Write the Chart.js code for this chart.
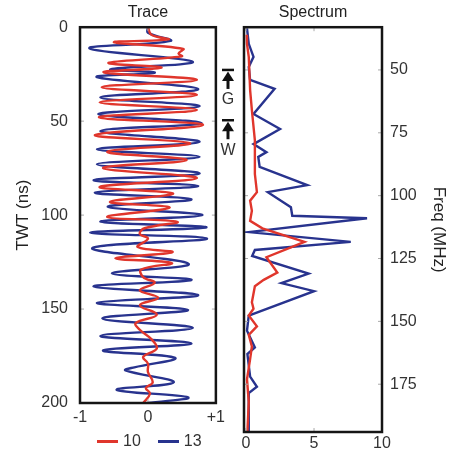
<!DOCTYPE html>
<html>
<head>
<meta charset="utf-8">
<script src="https://cdn.jsdelivr.net/npm/chart.js"></script>
<style>
  body { margin: 0; background: #fff; }
  #wrap { position: relative; width: 449px; height: 454px; overflow: hidden; font-family: "Liberation Sans", Arial, sans-serif; }
  #trace { position: absolute; left: 0; top: 0; }
  #spec { position: absolute; left: 215px; top: 0; }
  #legend { position: absolute; left: 97px; top: 432px; font-size: 16px; color: #333; display: flex; align-items: center; }
  #legend .sw { display: inline-block; width: 21px; height: 3px; margin-right: 5px; }
  #legend .it { display: flex; align-items: center; margin-right: 17px; }
</style>
</head>
<body>
<div id="wrap">
  <canvas id="trace" width="230" height="454"></canvas>
  <canvas id="spec" width="234" height="454"></canvas>
  <div id="legend"></div>
</div>
<script>
// series names / colours
const seriesNames = ["10", "13"];
const seriesColors = ["#e0362c", "#28338e"];

// trace: time (ns) and normalised amplitude
const trace10Time = [0, 4, 6.5, 8, 11.5, 14, 15.5, 19, 21.5, 24, 28, 32, 36, 40, 44, 48, 52, 57.4, 61.8, 66.3, 70.7, 75, 80.3, 85, 88.5, 93, 96, 101, 103.6, 107, 110, 112.5, 117, 119.7, 123, 125.5, 129, 133, 136, 140, 144, 148, 153, 157.5, 161, 166, 171, 175.5, 179, 183.5, 189, 192, 195, 200];
const trace10Amp = [0, 0.05, 0.3, -0.5, 0.52, 0.45, 0.5, -0.58, 0.2, -0.65, 0.72, -0.68, 0.72, -0.71, 0.72, -0.72, 0.81, -0.78, 0.62, -0.6, 0.57, -0.66, 0.72, -0.71, 0.37, -0.56, 0.32, -0.6, 0.43, -0.05, -0.12, 0, -0.15, 0.36, -0.48, 0.35, -0.1, -0.07, 0.1, -0.12, 0.15, -0.12, 0.13, -0.18, -0.12, 0.05, 0.13, -0.07, 0, 0, 0.07, -0.03, 0.03, -0.07];

const trace13Time = [0, 3, 7.3, 11.3, 18.4, 22.4, 24.2, 26.6, 33, 37.4, 42, 46.3, 51, 55.3, 61, 65, 69, 73, 77.8, 81.4, 84.5, 88, 91.6, 95.6, 100, 103.5, 106.5, 109.4, 112.5, 117.6, 126, 131, 134.5, 138, 142.6, 146.7, 150.5, 155, 160, 164.3, 168.3, 172, 176, 181, 182.6, 189, 193, 197, 200];
const trace13Amp = [0, 0, 0.33, -0.86, 0.66, -0.55, 0.1, -0.75, 0.74, -0.7, 0.76, -0.73, 0.79, -0.7, 0.76, -0.75, 0.76, -0.75, 0.76, -0.8, 0.74, -0.78, 0.64, -0.59, 0.8, -0.7, 0.86, -0.85, 0.87, -0.82, 0.6, -0.53, 0.64, -0.8, 0.74, -0.75, 0.59, -0.67, 0.66, -0.7, 0.64, -0.66, 0.4, -0.2, -0.33, 0.38, -0.46, 0.59, 0];

// spectrum: frequency (MHz) and amplitude
const spec10Freq = [36, 39.6, 44.8, 58, 66, 78, 91.4, 98.6, 102, 106, 110, 113, 118.4, 120.6, 124.5, 130.6, 133.5, 136, 142.4, 145, 147.7, 152, 155.4, 160, 165, 173, 182, 194];
const spec10Amp = [0.05, 0.07, 0.2, 0.3, 0.43, 0.65, 0.65, 0.8, 0.3, 0.43, 0.3, 1.2, 4.3, 3.3, 1.5, 2.3, 1.3, 0.65, 0.43, 0.55, 0.2, 0.8, 0.2, 0.43, 0.3, 0.07, 0.2, 0.1];

const spec13Freq = [33.5, 39.6, 44.8, 48.8, 54, 57.5, 67.5, 73.5, 79.5, 82.7, 84.6, 88.6, 95.8, 98.6, 104.6, 108, 109, 114.5, 118.4, 121.6, 124, 131, 134.8, 138, 147.7, 153.7, 160.4, 163, 172, 176, 178.5, 194];
const spec13Amp = [0.07, 0.2, 0.55, 0.2, 0.3, 2.1, 0.55, 2.5, 0.55, 1.5, 0.9, 1.0, 4.5, 1.6, 3.3, 3.4, 8.9, 0.2, 7.7, 0.65, 0.45, 4.6, 2.6, 5.0, 0.2, 0.07, 0.65, 0.1, 0.3, 0.8, 0.2, 0.2];

// tick labels
const traceXTicks = [-1, 0, 1];
const traceYTicks = [0, 50, 100, 150, 200];
const specXTicks = [0, 5, 10];
const specYTicks = [50, 75, 100, 125, 150, 175];

// G / W markers on the frequency axis
const markFreq = [50, 70];
const markLabel = ["G", "W"];

const FONT = "'Liberation Sans', Arial, sans-serif";
Chart.defaults.font.family = FONT;
Chart.defaults.color = "#333";

const pairs = (xs, ys) => xs.map((v, i) => ({ x: ys[i], y: v }));
const setTicks = arr => s => { s.ticks = arr.map(v => ({ value: v })); };

// box around the plot with little inward ticks
const framePlugin = {
  id: "frame",
  afterDatasetsDraw(chart) {
    const { ctx, chartArea: a, scales } = chart;
    const tick = (x1, y1, x2, y2) => { ctx.beginPath(); ctx.moveTo(x1, y1); ctx.lineTo(x2, y2); ctx.stroke(); };
    ctx.save();
    ctx.strokeStyle = "#aaa";
    ctx.lineWidth = 1;
    scales.x.ticks.forEach(t => {
      const p = scales.x.getPixelForValue(t.value);
      tick(p, a.top, p, a.top + 4);
      tick(p, a.bottom, p, a.bottom - 4);
    });
    scales.y.ticks.forEach(t => {
      const p = scales.y.getPixelForValue(t.value);
      tick(a.left, p, a.left + 4, p);
      tick(a.right, p, a.right - 4, p);
    });
    ctx.strokeStyle = "#151515";
    ctx.lineWidth = 2.5;
    ctx.strokeRect(a.left, a.top, a.right - a.left, a.bottom - a.top);
    ctx.restore();
  }
};

// the G / W arrows left of the spectrum box
const markPlugin = {
  id: "marks",
  afterDraw(chart) {
    const { ctx, chartArea: a, scales } = chart;
    const x = a.left - 16;
    ctx.save();
    ctx.fillStyle = "#111";
    ctx.strokeStyle = "#111";
    markFreq.forEach((f, i) => {
      const y = scales.y.getPixelForValue(f);
      ctx.lineWidth = 2.5;
      ctx.beginPath(); ctx.moveTo(x - 6, y); ctx.lineTo(x + 6, y); ctx.stroke();
      ctx.beginPath(); ctx.moveTo(x, y + 1.5); ctx.lineTo(x - 6, y + 11); ctx.lineTo(x + 6, y + 11); ctx.closePath(); ctx.fill();
      ctx.lineWidth = 3;
      ctx.beginPath(); ctx.moveTo(x, y + 9); ctx.lineTo(x, y + 19); ctx.stroke();
      ctx.font = "16px " + FONT;
      ctx.textAlign = "center";
      ctx.textBaseline = "middle";
      ctx.fillStyle = "#333";
      ctx.fillText(markLabel[i], x, y + 30);
      ctx.fillStyle = "#111";
    });
    ctx.restore();
  }
};

const titleOpts = text => ({
  display: true, text, fullSize: false, color: "#222",
  font: { size: 16, weight: "normal" }, padding: { top: 3, bottom: 5 }
});

new Chart(document.getElementById("trace"), {
  type: "scatter",
  data: {
    datasets: [
      { label: seriesNames[0], data: pairs(trace10Time, trace10Amp), borderColor: seriesColors[0], borderWidth: 2.4, showLine: true, pointRadius: 0, tension: 0.4 },
      { label: seriesNames[1], data: pairs(trace13Time, trace13Amp), borderColor: seriesColors[1], borderWidth: 2.4, showLine: true, pointRadius: 0, tension: 0.4 }
    ]
  },
  options: {
    responsive: false, animation: false,
    layout: { padding: { left: 0, right: 14, top: 0, bottom: 0 } },
    plugins: { legend: { display: false }, tooltip: { enabled: false }, title: titleOpts("Trace") },
    scales: {
      x: {
        type: "linear", min: -1, max: 1,
        afterBuildTicks: setTicks(traceXTicks),
        afterFit: s => { s.height = 51; },
        grid: { display: false, drawTicks: false }, border: { display: false },
        ticks: { padding: 5, font: { size: 16 }, callback: v => (v > 0 ? "+" + v : String(v)) }
      },
      y: {
        type: "linear", reverse: true, min: 0, max: 200,
        afterBuildTicks: setTicks(traceYTicks),
        afterFit: s => { s.width = 80; },
        grid: { display: false, drawTicks: false }, border: { display: false },
        ticks: { padding: 12, font: { size: 16 } },
        title: { display: true, text: "TWT (ns)", color: "#222", font: { size: 17 }, padding: { top: 13, bottom: 0 } }
      }
    }
  },
  plugins: [framePlugin]
});

new Chart(document.getElementById("spec"), {
  type: "scatter",
  data: {
    datasets: [
      { label: seriesNames[0], data: pairs(spec10Freq, spec10Amp), borderColor: seriesColors[0], borderWidth: 2.4, showLine: true, pointRadius: 0, tension: 0 },
      { label: seriesNames[1], data: pairs(spec13Freq, spec13Amp), borderColor: seriesColors[1], borderWidth: 2.4, showLine: true, pointRadius: 0, tension: 0 }
    ]
  },
  options: {
    responsive: false, animation: false,
    layout: { padding: { left: 29, right: 0, top: 0, bottom: 0 } },
    plugins: { legend: { display: false }, tooltip: { enabled: false }, title: titleOpts("Spectrum") },
    scales: {
      x: {
        type: "linear", min: -0.15, max: 10,
        afterBuildTicks: setTicks(specXTicks),
        afterFit: s => { s.height = 22; },
        grid: { display: false, drawTicks: false }, border: { display: false },
        ticks: { padding: 2, font: { size: 16 } }
      },
      y: {
        type: "linear", position: "right", reverse: true, min: 33, max: 194,
        afterBuildTicks: setTicks(specYTicks),
        afterFit: s => { s.width = 67; },
        grid: { display: false, drawTicks: false }, border: { display: false },
        ticks: { padding: 8, font: { size: 16 } },
        title: { display: true, text: "Freq (MHz)", color: "#222", font: { size: 17 }, padding: { top: 0, bottom: 0 } }
      }
    }
  },
  plugins: [framePlugin, markPlugin]
});

// legend under the trace panel
const legend = document.getElementById("legend");
seriesNames.forEach((name, i) => {
  const it = document.createElement("span");
  it.className = "it";
  const sw = document.createElement("span");
  sw.className = "sw";
  sw.style.background = seriesColors[i];
  it.appendChild(sw);
  it.appendChild(document.createTextNode(name));
  legend.appendChild(it);
});
</script>
</body>
</html>
